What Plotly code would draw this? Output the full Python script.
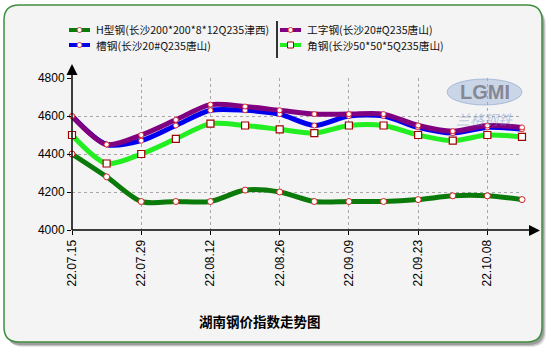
import plotly.graph_objects as go

# ---------------- data ----------------
dates = ["22.07.15", "22.07.22", "22.07.29", "22.08.05", "22.08.12", "22.08.19", "22.08.26",
         "22.09.02", "22.09.09", "22.09.16", "22.09.23", "22.09.30", "22.10.08", "22.10.14"]
h_beam = [4400, 4280, 4150, 4150, 4150, 4210, 4200, 4150, 4150, 4150, 4160, 4180, 4180, 4160]
channel = [4600, 4450, 4470, 4550, 4630, 4630, 4610, 4550, 4600, 4600, 4540, 4510, 4540, 4530]
i_beam = [4600, 4450, 4500, 4580, 4660, 4650, 4630, 4610, 4610, 4610, 4550, 4520, 4550, 4540]
angle = [4500, 4350, 4400, 4480, 4560, 4550, 4530, 4510, 4550, 4550, 4500, 4470, 4500, 4490]
y_ticks = [4000, 4200, 4400, 4600, 4800]
x_tick_labels = dates[::2]

names = ["H型钢(长沙200*200*8*12Q235津西)", "槽钢(长沙20#Q235唐山)",
         "工字钢(长沙20#Q235唐山)", "角钢(长沙50*50*5Q235唐山)"]
title = "湖南钢价指数走势图"

# ---------------- layout helpers (pixel -> paper) ----------------
WIDTH, HEIGHT = 551, 353
L, R, T, B = 72, 522, 78, 230
W, H = R - L, B - T


def X(px):
    return (px - L) / W


def Y(py):
    return (B - py) / H


def rrect(x0, y0, x1, y1, r):
    return (f"M {X(x0 + r)} {Y(y0)} L {X(x1 - r)} {Y(y0)} Q {X(x1)} {Y(y0)} {X(x1)} {Y(y0 + r)} "
            f"L {X(x1)} {Y(y1 - r)} Q {X(x1)} {Y(y1)} {X(x1 - r)} {Y(y1)} "
            f"L {X(x0 + r)} {Y(y1)} Q {X(x0)} {Y(y1)} {X(x0)} {Y(y1 - r)} "
            f"L {X(x0)} {Y(y0 + r)} Q {X(x0)} {Y(y0)} {X(x0 + r)} {Y(y0)} Z")


CARD = "#f4f4f4"
series = [
    (h_beam, "#0a7a0a", dict(symbol="circle", size=6, color="white", line=dict(color="#d42020", width=1))),
    (channel, "#0000ee", dict(symbol="circle", size=5, color="white", line=dict(color="#e03030", width=1))),
    (i_beam, "#800080", dict(symbol="circle", size=5, color="white", line=dict(color="#e03030", width=1))),
    (angle, "#22ee22", dict(symbol="square", size=7, color="white", line=dict(color="#a00000", width=1.2))),
]

fig = go.Figure()
for vals, col, mk in series:
    fig.add_trace(go.Scatter(x=dates, y=vals, mode="lines+markers",
                             line=dict(color=col, width=5, shape="spline", smoothing=0.8),
                             marker=mk, cliponaxis=False, showlegend=False, hoverinfo="skip"))

shapes = []
# card shadow + card
for off, op in [(5, 0.10), (4, 0.15), (3, 0.2)]:
    shapes.append(dict(type="path", xref="paper", yref="paper", layer="below",
                       path=rrect(4 + off - 1, 5 + off, 542 + off - 1, 342 + off, 15),
                       fillcolor=f"rgba(0,0,0,{op})", line=dict(width=0)))
shapes.append(dict(type="path", xref="paper", yref="paper", layer="below",
                   path=rrect(4, 5, 542, 342, 15), fillcolor=CARD,
                   line=dict(color="#3f8f3f", width=1.5)))

# watermark
shapes.append(dict(type="circle", xref="paper", yref="paper", layer="below",
                   x0=X(447), x1=X(522), y0=Y(105), y1=Y(79),
                   fillcolor="rgba(150,175,215,0.45)", line=dict(color="rgba(120,150,200,0.5)", width=1)))

# axes with arrows
shapes.append(dict(type="line", xref="paper", yref="paper", x0=X(72), x1=X(72), y0=Y(230), y1=Y(70),
                   line=dict(color="black", width=1.5)))
shapes.append(dict(type="line", xref="paper", yref="paper", x0=X(72), x1=X(532), y0=Y(230), y1=Y(230),
                   line=dict(color="black", width=1.5)))
shapes.append(dict(type="path", xref="paper", yref="paper",
                   path=f"M {X(72)} {Y(64)} L {X(66.5)} {Y(75)} L {X(77.5)} {Y(75)} Z",
                   fillcolor="black", line=dict(width=0)))
shapes.append(dict(type="path", xref="paper", yref="paper",
                   path=f"M {X(540)} {Y(230.5)} L {X(529)} {Y(225)} L {X(529)} {Y(236)} Z",
                   fillcolor="black", line=dict(width=0)))

# legend separator
shapes.append(dict(type="line", xref="paper", yref="paper", x0=X(277), x1=X(277), y0=Y(21), y1=Y(58),
                   line=dict(color="#333333", width=2)))

annotations = []
leg_pos = [(69, 30), (69, 45), (280, 30), (280, 45)]
for (lx, ly), (vals, col, mk), name in zip(leg_pos, series, names):
    shapes.append(dict(type="line", xref="paper", yref="paper", x0=X(lx), x1=X(lx + 21),
                       y0=Y(ly), y1=Y(ly), line=dict(color=col, width=4)))
    cx = lx + 10.5
    if mk["symbol"] == "square":
        shapes.append(dict(type="rect", xref="paper", yref="paper", x0=X(cx - 3), x1=X(cx + 3),
                           y0=Y(ly + 3), y1=Y(ly - 3), fillcolor="white",
                           line=dict(color="#a00000", width=1)))
    else:
        shapes.append(dict(type="circle", xref="paper", yref="paper", x0=X(cx - 2.5), x1=X(cx + 2.5),
                           y0=Y(ly + 2.5), y1=Y(ly - 2.5), fillcolor="white",
                           line=dict(color="#e03030", width=1)))
    annotations.append(dict(x=X(lx + 25), y=Y(ly), xref="paper", yref="paper", text=name,
                            showarrow=False, xanchor="left", yanchor="middle", height=13,
                            font=dict(family="Noto Sans CJK SC", size=10.7, color="#111111")))

annotations.append(dict(x=X(260), y=Y(321), xref="paper", yref="paper", text=f"<b>{title}</b>",
                        showarrow=False, xanchor="center", yanchor="middle",
                        font=dict(family="Noto Sans CJK SC", size=13.5, color="black")))
annotations.append(dict(x=X(485), y=Y(92), xref="paper", yref="paper", text="<b>LGMI</b>",
                        showarrow=False, xanchor="center", yanchor="middle",
                        font=dict(family="Liberation Sans", size=20, color="rgba(110,110,120,0.75)")))
annotations.append(dict(x=X(485), y=Y(119), xref="paper", yref="paper", text="<i>兰格钢铁</i>",
                        showarrow=False, xanchor="center", yanchor="middle",
                        font=dict(family="Noto Sans CJK SC", size=14, color="rgba(110,140,200,0.45)")))

fig.update_layout(
    width=WIDTH, height=HEIGHT,
    margin=dict(l=L, r=WIDTH - R, t=T, b=HEIGHT - B, pad=0),
    paper_bgcolor="white", plot_bgcolor=CARD,
    shapes=shapes, annotations=annotations, showlegend=False,
    xaxis=dict(type="category", range=[0, 13], tickmode="array", tickvals=x_tick_labels,
               ticktext=x_tick_labels, tickangle=-90, showgrid=True, griddash="dot",
               gridcolor="#a8a8a8", gridwidth=1, ticks="outside", ticklen=4, tickcolor="black",
               showline=False, zeroline=False,
               tickfont=dict(family="Liberation Sans", size=12, color="black")),
    yaxis=dict(range=[4000, 4800], tickmode="array", tickvals=y_ticks, showgrid=True, griddash="dot",
               gridcolor="#a8a8a8", gridwidth=1, ticks="outside", ticklen=4, tickcolor="black",
               showline=False, zeroline=False,
               tickfont=dict(family="Liberation Sans", size=12, color="black")),
)

fig.write_html("out.html")
